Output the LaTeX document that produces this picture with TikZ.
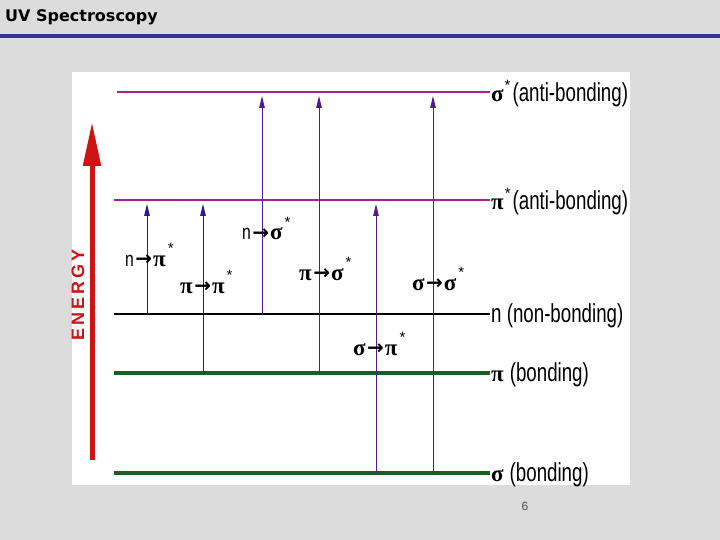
\documentclass[tikz,border=0pt]{standalone}
\usepackage{fontspec}
\setmainfont{Liberation Sans}
\newfontfamily\grkf{Liberation Serif}
\newfontfamily\arrf{DejaVu Sans}
\newfontfamily\ttlf{DejaVu Sans}
\usetikzlibrary{arrows.meta}
\definecolor{bggray}{RGB}{220,220,220}
\definecolor{titleblue}{RGB}{51,51,145}
\definecolor{antic}{RGB}{165,35,140}
\definecolor{bondc}{RGB}{25,95,35}
\definecolor{energyred}{RGB}{205,20,20}
\definecolor{tblue}{RGB}{30,30,150}
\definecolor{tpurple}{RGB}{80,25,140}
\newcommand\lvltxt[1]{\scalebox{0.72}[1]{\fontsize{26}{26}\selectfont #1}}
\newcommand\grk[1]{{\grkf\bfseries\fontsize{23}{23}\selectfont #1}}
\newcommand\nn{\scalebox{0.75}[1]{\fontsize{21}{21}\selectfont n}}
\newcommand\str{\kern2pt\raisebox{13pt}{\fontsize{15}{15}\selectfont *}}
\newcommand\lstr{\kern1pt\raisebox{11pt}{\fontsize{15}{15}\selectfont *}}
\newcommand\rarr{\kern1.5pt\raisebox{0.5pt}{\arrf\bfseries\fontsize{20}{20}\selectfont →}\kern1pt}
\tikzset{
  antilevel/.style={draw=antic, line width=2pt},
  nlevel/.style={draw=black, line width=2pt},
  bondlevel/.style={draw=bondc, line width=4pt},
  lvllabel/.style={anchor=west, inner sep=1pt, yshift=-1.5pt},
  translabel/.style={anchor=base west, inner sep=0pt},
  transb/.style={draw=tblue, line width=0.9pt, -{Triangle[length=12pt,width=5.5pt]}},
  transp/.style={draw=tpurple, line width=0.9pt, -{Triangle[length=12pt,width=5.5pt]}},
}
\begin{document}
\begin{tikzpicture}[x=1pt,y=-1pt]
\useasboundingbox (0,0) rectangle (720,540);
\fill[bggray] (0,0) rectangle (720,540);
\fill[white] (72,72) rectangle (630,485);
\draw[titleblue, line width=4pt] (0,36) -- (720,36);
\node[anchor=base west, inner sep=0pt, font=\ttlf\bfseries\fontsize{16}{16}\selectfont] (title) at (5,22) {UV Spectroscopy};

% levels
\coordinate (ssL) at (117,92);  \coordinate (ssR) at (490,92);
\coordinate (psL) at (114,200); \coordinate (psR) at (490,200);
\coordinate (nL)  at (114,314); \coordinate (nR)  at (490,314);
\coordinate (pL)  at (114,373); \coordinate (pR)  at (490,373);
\coordinate (sL)  at (114,473); \coordinate (sR)  at (490,473);
\draw[antilevel] (ssL) -- (ssR);
\draw[antilevel] (psL) -- (psR);
\draw[nlevel] (nL) -- (nR);
\draw[bondlevel] (pL) -- (pR);
\draw[bondlevel] (sL) -- (sR);

\node[lvllabel] (ssT) at (ssR) {\grk{σ}\lstr\kern2pt\lvltxt{(anti-bonding)}};
\node[lvllabel] (psT) at (psR) {\grk{π}\lstr\kern2pt\lvltxt{(anti-bonding)}};
\node[lvllabel] (nT)  at (nR)  {\lvltxt{n (non-bonding)}};
\node[lvllabel] (pT)  at (pR)  {\grk{π}\kern6pt\lvltxt{(bonding)}};
\node[lvllabel] (sT)  at (sR)  {\grk{σ}\kern6pt\lvltxt{(bonding)}};

% transitions
\coordinate (a1s) at (147,314); \coordinate (a1e) at (147,204);
\coordinate (a2s) at (203,373); \coordinate (a2e) at (203,204);
\coordinate (a3s) at (262,314); \coordinate (a3e) at (262,96);
\coordinate (a4s) at (319,373); \coordinate (a4e) at (319,96);
\coordinate (a5s) at (376,473); \coordinate (a5e) at (376,204);
\coordinate (a6s) at (433,473); \coordinate (a6e) at (433,96);
\draw[transb] (a1s) -- (a1e);
\draw[transb] (a2s) -- (a2e);
\draw[transp] (a3s) -- (a3e);
\draw[transp] (a4s) -- (a4e);
\draw[transp] (a5s) -- (a5e);
\draw[transp] (a6s) -- (a6e);

\node[translabel] (t1) at (125,266) {\nn\rarr\grk{π}\str};
\node[translabel] (t2) at (180,293) {\grk{π}\rarr\grk{π}\str};
\node[translabel] (t3) at (242,240) {\nn\rarr\grk{σ}\str};
\node[translabel] (t4) at (299,280) {\grk{π}\rarr\grk{σ}\str};
\node[translabel] (t5) at (412,290) {\grk{σ}\rarr\grk{σ}\str};
\node[translabel] (t6) at (353,355) {\grk{σ}\rarr\grk{π}\str};

% energy axis
\coordinate (eBot) at (92,460);
\coordinate (eTop) at (92,122);
\draw[energyred, line width=5pt, -{Triangle[length=44pt,width=17pt]}] (eBot) -- (eTop);
\node[rotate=90, text=energyred, inner sep=0pt, font=\bfseries\fontsize{18}{18}\selectfont] (energy) at (78,295)
  {E\kern3pt N\kern3pt E\kern3pt R\kern3pt G\kern3pt Y};

\node[anchor=base, inner sep=0pt, text=black!70, font=\fontsize{12}{12}\selectfont] (page) at (525,510) {6};
\end{tikzpicture}
\end{document}
